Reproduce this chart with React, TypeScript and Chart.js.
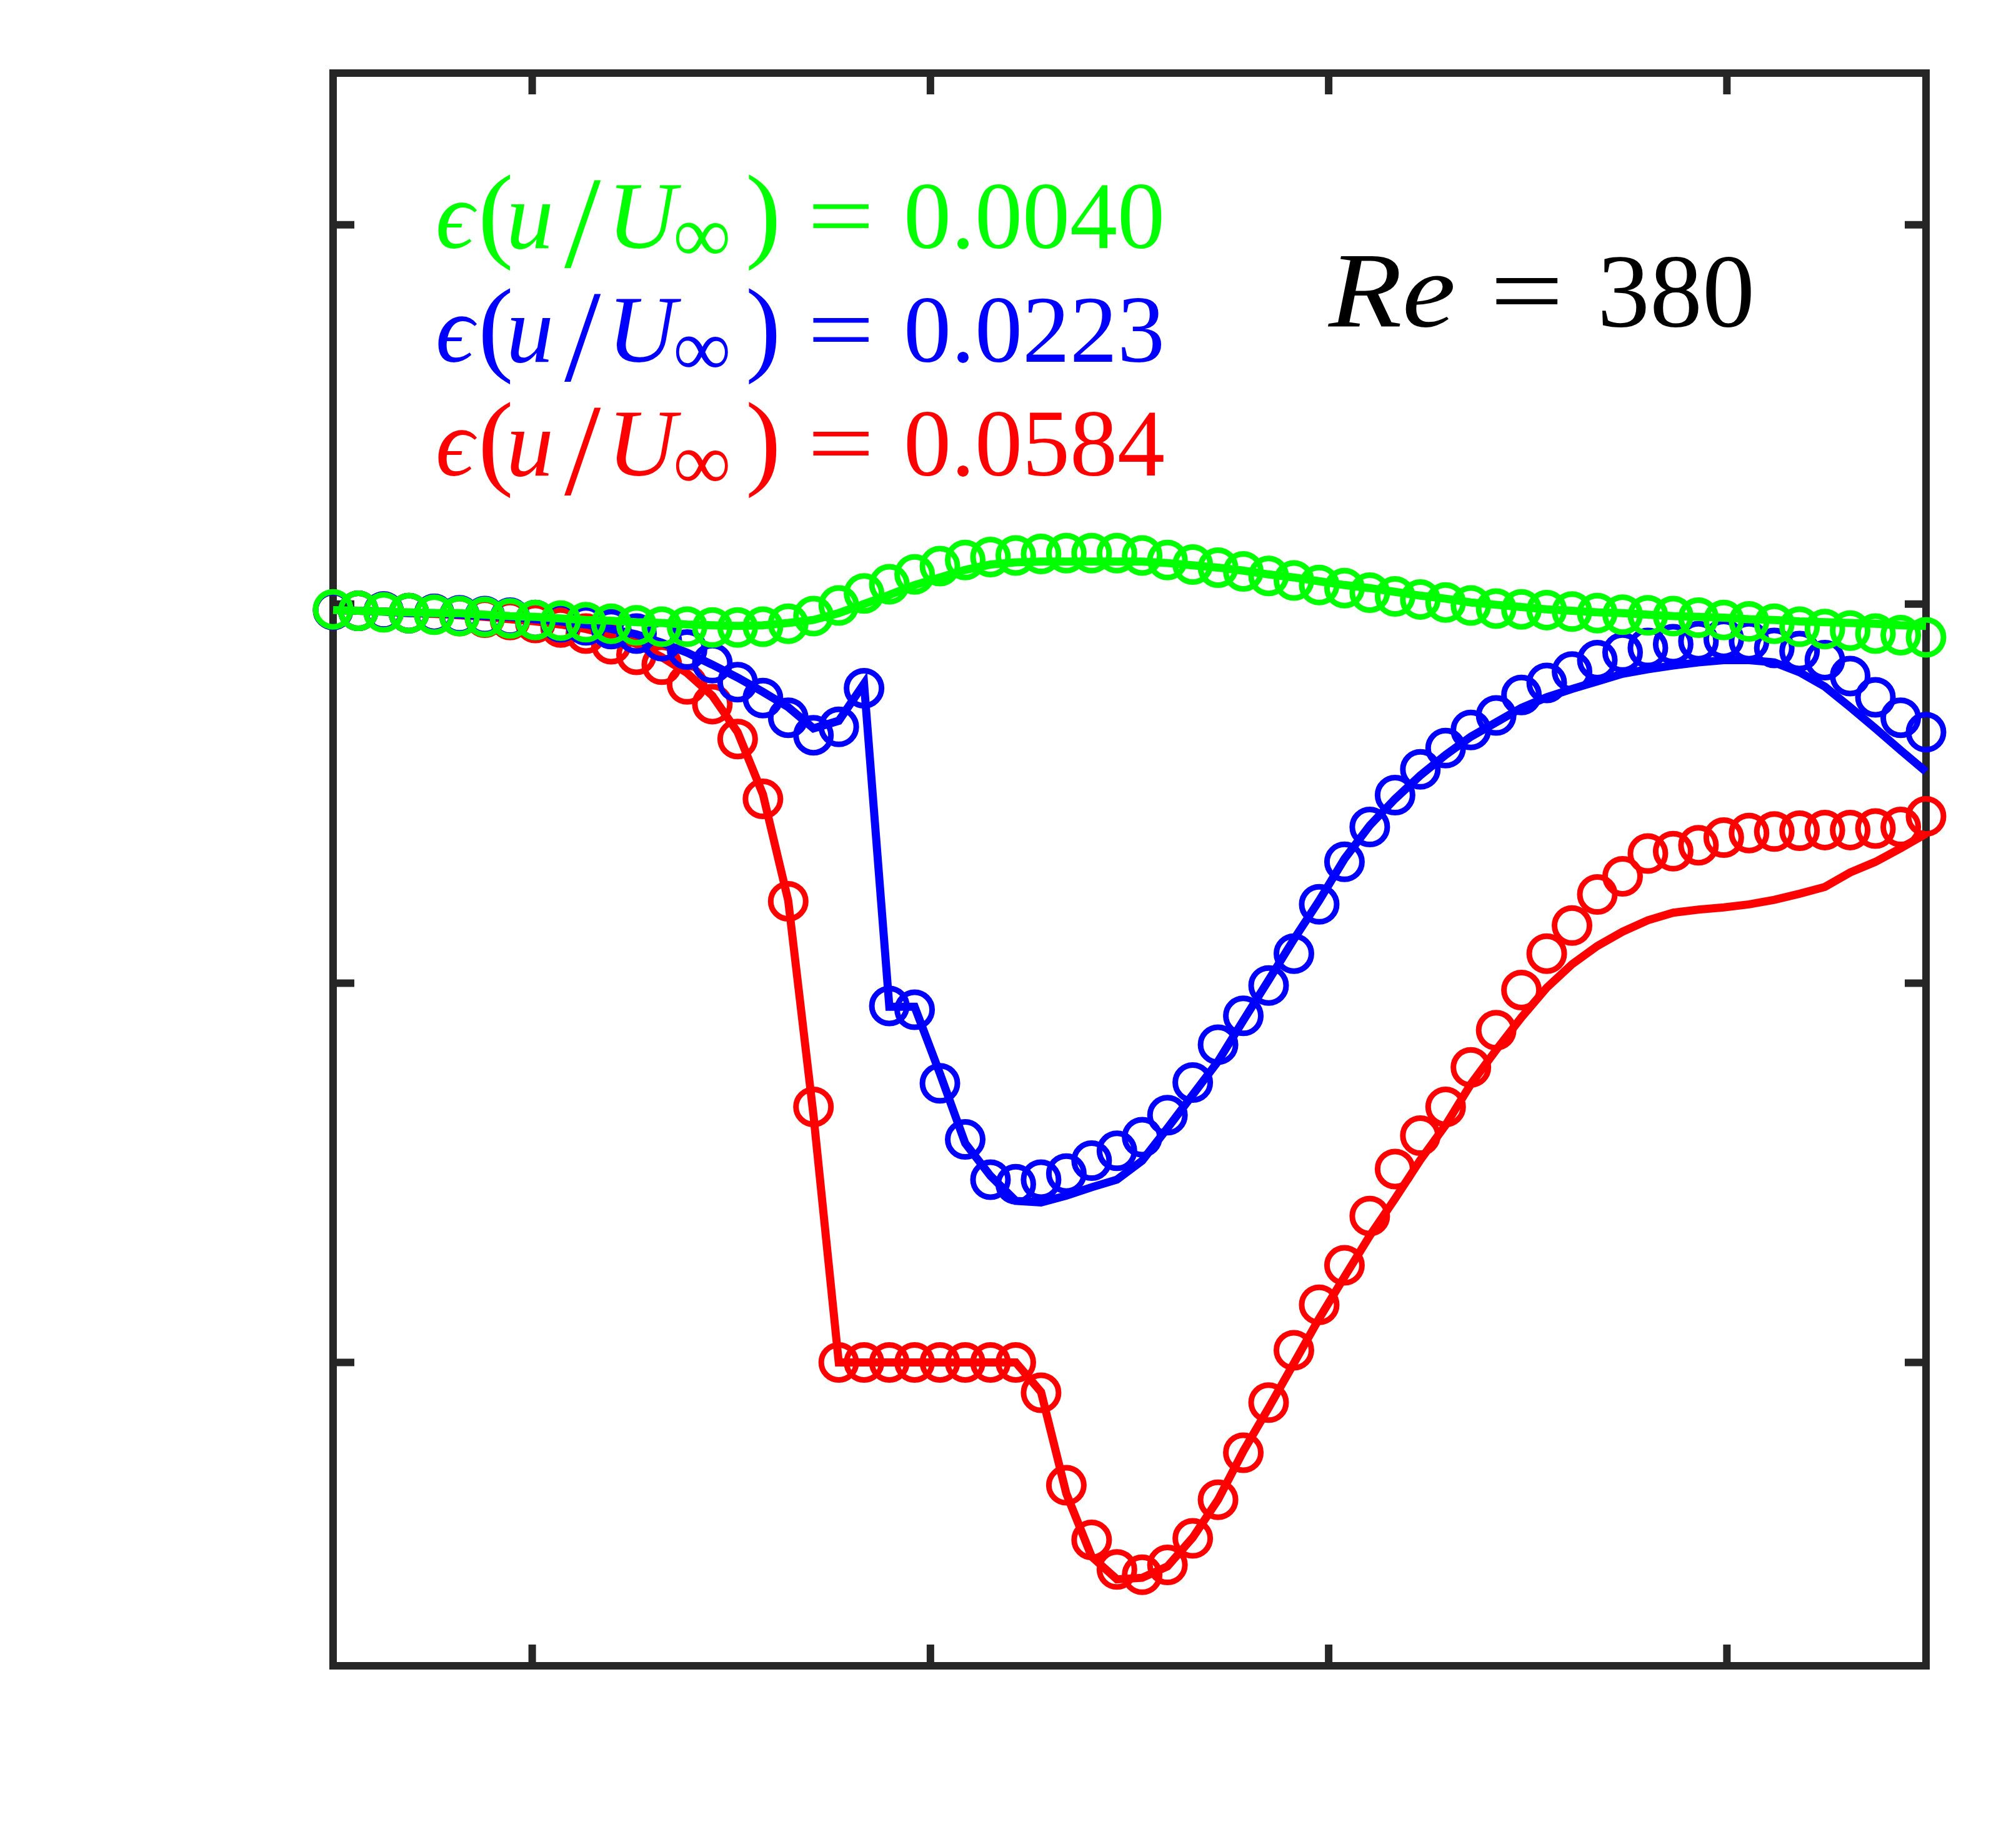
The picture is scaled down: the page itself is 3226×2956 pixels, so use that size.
import { useEffect, useRef } from "react";
import { Chart, registerables } from "chart.js";

Chart.register(...registerables);

// x/D sample positions (64 samples)
const xPositions = [
  -0.5, -0.4365, -0.373, -0.3095, -0.246, -0.1825, -0.119, -0.0556, 0.0079, 0.0714,
  0.1349, 0.1984, 0.2619, 0.3254, 0.3889, 0.4524, 0.5159, 0.5794, 0.6429, 0.7063,
  0.7698, 0.8333, 0.8968, 0.9603, 1.0238, 1.0873, 1.1508, 1.2143, 1.2778, 1.3413,
  1.4048, 1.4683, 1.5317, 1.5952, 1.6587, 1.7222, 1.7857, 1.8492, 1.9127, 1.9762,
  2.0397, 2.1032, 2.1667, 2.2302, 2.2937, 2.3571, 2.4206, 2.4841, 2.5476, 2.6111,
  2.6746, 2.7381, 2.8016, 2.8651, 2.9286, 2.9921, 3.0556, 3.119, 3.1825, 3.246,
  3.3095, 3.373, 3.4365, 3.5,
];

// u/U∞ — reference (lines) and prediction (markers)
const greenLine = [
  0.992, 0.991, 0.99, 0.989, 0.988, 0.988, 0.986, 0.984, 0.983, 0.981,
  0.979, 0.978, 0.976, 0.975, 0.973, 0.972, 0.971, 0.972, 0.975, 0.979,
  0.988, 1.0, 1.012, 1.025, 1.035, 1.045, 1.052, 1.055, 1.056, 1.056,
  1.056, 1.056, 1.056, 1.054, 1.051, 1.048, 1.044, 1.039, 1.035, 1.03,
  1.025, 1.021, 1.016, 1.011, 1.007, 1.002, 0.999, 0.996, 0.993, 0.991,
  0.989, 0.988, 0.986, 0.984, 0.983, 0.982, 0.98, 0.979, 0.977, 0.976,
  0.975, 0.974, 0.972, 0.971,
];
const greenMarkers = [
  0.993, 0.991, 0.989, 0.988, 0.986, 0.984, 0.983, 0.981, 0.979, 0.978,
  0.976, 0.974, 0.972, 0.97, 0.97, 0.969, 0.969, 0.97, 0.974, 0.984,
  0.998, 1.014, 1.026, 1.039, 1.05, 1.058, 1.062, 1.064, 1.066, 1.067,
  1.067, 1.067, 1.064, 1.058, 1.052, 1.048, 1.043, 1.037, 1.031, 1.025,
  1.021, 1.015, 1.01, 1.006, 1.002, 0.998, 0.994, 0.993, 0.992, 0.99,
  0.988, 0.986, 0.985, 0.984, 0.982, 0.979, 0.977, 0.974, 0.97, 0.967,
  0.965, 0.961, 0.959, 0.956,
];
const blueLine = [
  0.992, 0.991, 0.99, 0.988, 0.988, 0.986, 0.984, 0.983, 0.98, 0.977,
  0.973, 0.967, 0.96, 0.949, 0.936, 0.92, 0.903, 0.884, 0.864, 0.836,
  0.846, 0.895, 0.469, 0.469, 0.381, 0.289, 0.246, 0.213, 0.211, 0.22,
  0.231, 0.241, 0.266, 0.309, 0.353, 0.397, 0.451, 0.504, 0.558, 0.609,
  0.664, 0.708, 0.743, 0.774, 0.801, 0.825, 0.844, 0.863, 0.877, 0.888,
  0.898, 0.908, 0.914, 0.919, 0.923, 0.926, 0.926, 0.923, 0.91, 0.891,
  0.864, 0.836, 0.807, 0.779,
];
const blueMarkers = [
  0.992, 0.991, 0.99, 0.988, 0.987, 0.985, 0.984, 0.982, 0.979, 0.976,
  0.972, 0.967, 0.961, 0.951, 0.94, 0.922, 0.897, 0.876, 0.85, 0.827,
  0.838, 0.889, 0.47, 0.465, 0.368, 0.294, 0.241, 0.235, 0.241, 0.249,
  0.266, 0.279, 0.297, 0.326, 0.369, 0.419, 0.457, 0.497, 0.539, 0.604,
  0.66, 0.706, 0.748, 0.782, 0.81, 0.834, 0.853, 0.88, 0.896, 0.911,
  0.926, 0.936, 0.942, 0.947, 0.951, 0.954, 0.951, 0.942, 0.938, 0.926,
  0.905, 0.877, 0.85, 0.831,
];
const redLine = [
  0.992, 0.991, 0.99, 0.988, 0.987, 0.985, 0.983, 0.98, 0.977, 0.973,
  0.967, 0.959, 0.947, 0.93, 0.909, 0.879, 0.831, 0.749, 0.609, 0.326,
  0.0, 0.0, 0.0, 0.0, 0.0, 0.0, 0.0, 0.0, -0.039, -0.173,
  -0.256, -0.286, -0.284, -0.269, -0.231, -0.181, -0.117, -0.06, -0.001, 0.058,
  0.113, 0.167, 0.216, 0.267, 0.313, 0.367, 0.412, 0.455, 0.494, 0.525,
  0.549, 0.568, 0.583, 0.593, 0.597, 0.6, 0.604, 0.61, 0.618, 0.627,
  0.646, 0.66, 0.678, 0.697,
];
const redMarkers = [
  0.992, 0.991, 0.99, 0.988, 0.987, 0.984, 0.982, 0.979, 0.975, 0.969,
  0.961, 0.947, 0.933, 0.92, 0.894, 0.868, 0.822, 0.743, 0.608, 0.337,
  0.0, 0.0, 0.0, 0.0, 0.0, 0.0, 0.0, 0.0, -0.04, -0.162,
  -0.234, -0.273, -0.28, -0.267, -0.232, -0.181, -0.119, -0.053, 0.016, 0.076,
  0.128, 0.193, 0.255, 0.299, 0.337, 0.389, 0.438, 0.491, 0.539, 0.576,
  0.617, 0.641, 0.671, 0.674, 0.682, 0.692, 0.698, 0.7, 0.701, 0.702,
  0.702, 0.704, 0.706, 0.72,
];

const xTickValues = [0, 1, 2, 3];
const yTickValues = [0, 0.5, 1.0, 1.5];

const errorLabels = ["0.0040", "0.0223", "0.0584"];
const errorColors = ["#00ff00", "#0000ff", "#ff0000"];
const reynoldsLabel = "380";

const SERIF = '"Liberation Serif", "DejaVu Serif", serif';

const toPoints = (ys: number[]) => xPositions.map((x, i) => ({ x, y: ys[i] }));

function piece(ctx: CanvasRenderingContext2D, text: string, x: number, y: number, font: string, sx = 1) {
  ctx.save();
  ctx.font = font;
  ctx.translate(x, y);
  ctx.scale(sx, 1);
  ctx.fillText(text, 0, 0);
  ctx.restore();
}

const framePlugin = {
  id: "frameTicks",
  beforeDatasetsDraw(chart: any) {
    const { ctx, chartArea: a, scales } = chart;
    ctx.save();
    ctx.strokeStyle = "#262626";
    ctx.lineWidth = 12;
    ctx.strokeRect(a.left, a.top, a.right - a.left, a.bottom - a.top);
    const L = 34;
    ctx.beginPath();
    for (const v of xTickValues) {
      const px = scales.x.getPixelForValue(v);
      ctx.moveTo(px, a.bottom);
      ctx.lineTo(px, a.bottom - L);
      ctx.moveTo(px, a.top);
      ctx.lineTo(px, a.top + L);
    }
    for (const v of yTickValues) {
      const py = scales.y.getPixelForValue(v);
      ctx.moveTo(a.left, py);
      ctx.lineTo(a.left + L, py);
      ctx.moveTo(a.right, py);
      ctx.lineTo(a.right - L, py);
    }
    ctx.stroke();
    ctx.restore();
  },
};

const textPlugin = {
  id: "mathText",
  afterDraw(chart: any) {
    const ctx: CanvasRenderingContext2D = chart.ctx;
    ctx.save();
    ctx.textAlign = "left";
    ctx.textBaseline = "alphabetic";
    errorLabels.forEach((label, k) => {
      const b = 397 + 182 * k;
      ctx.fillStyle = errorColors[k];
      piece(ctx, "\u03F5", 697, b, `italic 152px ${SERIF}`);
      piece(ctx, "(", 765, b, `170px ${SERIF}`);
      piece(ctx, "u", 810, b, `italic 152px ${SERIF}`);
      piece(ctx, "/", 903, b + 30, `210px ${SERIF}`);
      piece(ctx, "U", 972, b, `italic 152px ${SERIF}`);
      piece(ctx, "\u221E", 1077, b + 22, `130px ${SERIF}`);
      piece(ctx, ")", 1193, b, `170px ${SERIF}`);
      piece(ctx, "=", 1292, b, `152px ${SERIF}`, 1.25);
      piece(ctx, label, 1446, b, `152px ${SERIF}`);
    });
    ctx.fillStyle = "#000000";
    const rb = 522;
    piece(ctx, "Re", 2126, rb, `italic 172px ${SERIF}`, 1.12);
    piece(ctx, "=", 2384, rb, `168px ${SERIF}`, 1.25);
    piece(ctx, reynoldsLabel, 2556, rb, `168px ${SERIF}`);
    ctx.restore();
  },
};

function lineSet(ys: number[], color: string) {
  return {
    data: toPoints(ys),
    borderColor: color,
    backgroundColor: color,
    borderWidth: 13,
    pointRadius: 0,
    tension: 0,
    fill: false,
    clip: false as const,
  };
}

function markerSet(ys: number[], color: string) {
  return {
    data: toPoints(ys),
    showLine: false,
    borderColor: color,
    pointBorderColor: color,
    pointBackgroundColor: "rgba(0,0,0,0)",
    pointRadius: 28,
    pointBorderWidth: 9,
    pointStyle: "circle",
    fill: false,
    clip: false as const,
  };
}

export default function App() {
  const ref = useRef<HTMLCanvasElement | null>(null);
  useEffect(() => {
    if (!ref.current) return;
    const chart = new Chart(ref.current, {
      type: "line",
      data: {
        datasets: [
          lineSet(greenLine, "#00ff00"),
          markerSet(greenMarkers, "#00ff00"),
          lineSet(blueLine, "#0000ff"),
          markerSet(blueMarkers, "#0000ff"),
          lineSet(redLine, "#ff0000"),
          markerSet(redMarkers, "#ff0000"),
        ] as any,
      },
      options: {
        animation: false,
        responsive: false,
        devicePixelRatio: 1,
        events: [],
        layout: { padding: { left: 533, top: 117, right: 144, bottom: 290 } },
        plugins: { legend: { display: false }, tooltip: { enabled: false } },
        scales: {
          x: { type: "linear", min: -0.5, max: 3.5, display: false },
          y: { type: "linear", min: -0.4, max: 1.7, display: false },
        },
      },
      plugins: [framePlugin, textPlugin],
    });
    return () => chart.destroy();
  }, []);
  return (
    <div style={{ position: "fixed", left: 0, top: 0, width: 3226, height: 2956, background: "#ffffff" }}>
      <canvas ref={ref} width={3226} height={2956} style={{ display: "block", width: 3226, height: 2956 }} />
    </div>
  );
}
